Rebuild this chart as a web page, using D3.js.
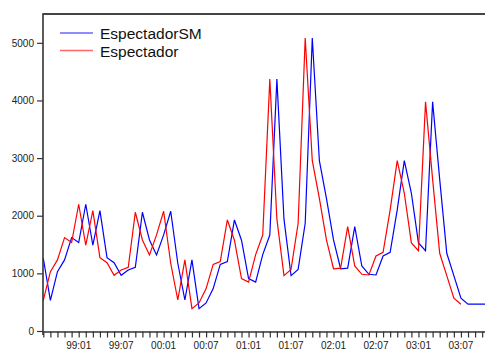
<!DOCTYPE html>
<html>
<head>
<meta charset="utf-8">
<script src="https://cdn.jsdelivr.net/npm/d3@7"></script>
<style>
  body { margin: 0; padding: 0; background: #fff; }
  svg { display: block; font-family: "Liberation Sans", Arial, sans-serif; }
</style>
</head>
<body>
<script>
// monthly series, first point is 1998:08
const startYear = 1998
const startMonth = 8

const espectadorSM = [
  1262, 530, 1030, 1233, 1620, 1534, 2199, 1488, 2089, 1273,
  1186, 966, 1059, 1105, 2060, 1580, 1319, 1667, 2078, 1175,
  538, 1233, 388, 486, 735, 1155, 1204, 1927, 1575, 910,
  848, 1325, 1665, 4370, 1940, 961, 1068, 1869, 5085, 2955,
  2300, 1580, 1080, 1090, 1811, 1128, 984, 972, 1302, 1366,
  2101, 2957, 2390, 1528, 1392, 3975, 2630, 1348, 960, 570,
  465, 465, 465, 465
]

const espectador = [
  530, 1030, 1233, 1620, 1534, 2199, 1488, 2089, 1273, 1186,
  966, 1059, 1105, 2060, 1580, 1319, 1667, 2078, 1175, 538,
  1233, 388, 486, 735, 1155, 1204, 1927, 1575, 910, 848,
  1325, 1665, 4370, 1940, 961, 1068, 1869, 5085, 2955, 2300,
  1580, 1080, 1090, 1811, 1128, 984, 972, 1302, 1366, 2101,
  2957, 2390, 1528, 1392, 3975, 2630, 1348, 960, 570, 465
]

const yTicks = [0, 1000, 2000, 3000, 4000, 5000]
const xTickLabels = ["99:01", "99:07", "00:01", "00:07", "01:01", "01:07", "02:01", "02:07", "03:01", "03:07"]

const seriesNames = ["EspectadorSM", "Espectador"]
const seriesColors = ["#0000ff", "#ff0000"]

const width = 485
const height = 349

// "yy:mm" -> month index from the start
const labelIndex = s => {
  const [yy, mm] = s.split(":").map(Number)
  const year = yy < 50 ? 2000 + yy : 1900 + yy
  return (year - startYear) * 12 + (mm - startMonth)
}

const x = d3.scaleLinear().domain([0, 62.4]).range([43.3, 485])
const y = d3.scaleLinear().domain([0, 5500]).range([331, 14])

const svg = d3.select("body").append("svg")
  .attr("width", width)
  .attr("height", height)

const line = d3.line()
  .x((d, i) => x(i))
  .y(d => y(d))

svg.append("path")
  .datum(espectadorSM)
  .attr("fill", "none")
  .attr("stroke", seriesColors[0])
  .attr("stroke-width", 1.2)
  .attr("d", line)

svg.append("path")
  .datum(espectador)
  .attr("fill", "none")
  .attr("stroke", seriesColors[1])
  .attr("stroke-width", 1.2)
  .attr("d", line)

// left axis
const yAxis = svg.append("g")
  .attr("transform", `translate(${x(0) - 0.3},0)`)
  .call(d3.axisLeft(y).tickValues(yTicks).tickSize(6).tickSizeOuter(0).tickPadding(3).tickFormat(d3.format("d")))
yAxis.select(".domain").attr("stroke", "#333").attr("stroke-width", 1.6)
  .attr("d", `M0,${y(0) + 4}V${y(5500)}`)
yAxis.selectAll(".tick line").attr("stroke", "#333").attr("stroke-width", 1.2)
yAxis.selectAll(".tick text")
  .attr("fill", "#222")
  .style("font-size", "10px")
  .style("font-family", "Liberation Sans, Arial, sans-serif")

// bottom axis, a tick every month, label every six
const months = d3.range(0, 64)
const xAxis = svg.append("g")
  .attr("transform", `translate(0,${y(0) + 0.5})`)
  .call(d3.axisBottom(x).tickValues(months).tickSize(6).tickSizeOuter(0).tickFormat(""))
xAxis.select(".domain").attr("stroke", "#333").attr("stroke-width", 1.6)
xAxis.selectAll(".tick line").attr("stroke", "#333").attr("stroke-width", 1.2)

svg.append("g")
  .selectAll("text")
  .data(xTickLabels)
  .join("text")
  .attr("x", d => x(labelIndex(d)))
  .attr("y", 348.5)
  .attr("text-anchor", "middle")
  .attr("fill", "#222")
  .style("font-size", "10px")
  .text(d => d)

// top frame line
svg.append("line")
  .attr("x1", x(0) - 1)
  .attr("x2", width)
  .attr("y1", y(5500))
  .attr("y2", y(5500))
  .attr("stroke", "#444")
  .attr("stroke-width", 1.8)

// legend
const legend = svg.append("g")
  .selectAll("g")
  .data(seriesNames)
  .join("g")
  .attr("transform", (d, i) => `translate(60,${33 + i * 17.5})`)

legend.append("line")
  .attr("x1", 0)
  .attr("x2", 33)
  .attr("stroke", (d, i) => seriesColors[i])
  .attr("stroke-opacity", 0.6)
  .attr("stroke-width", 1.6)

legend.append("text")
  .attr("x", 40)
  .attr("y", 6)
  .attr("fill", "#111")
  .style("font-size", "15.5px")
  .text(d => d)
</script>
</body>
</html>
